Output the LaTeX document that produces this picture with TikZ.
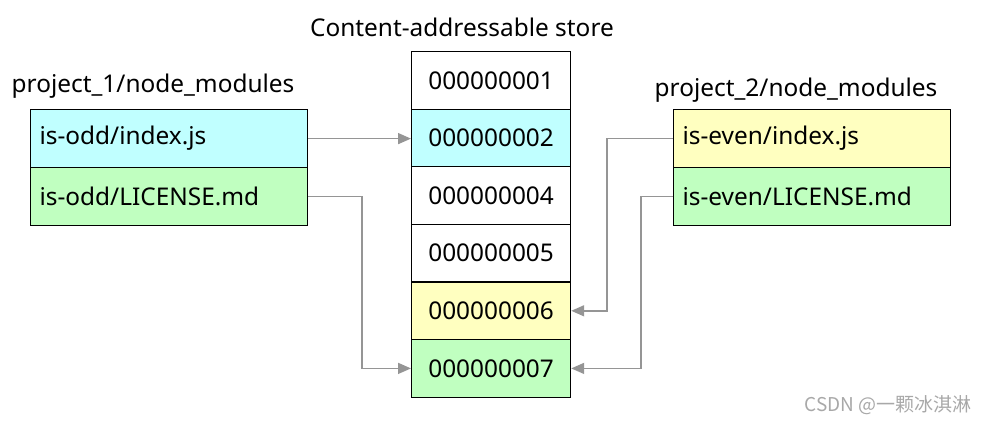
\documentclass[tikz,border=0pt]{standalone}
\usepackage{fontspec}
\setmainfont{Noto Sans}
\newfontfamily\cjk{Noto Sans CJK SC}
\usetikzlibrary{arrows.meta}
\definecolor{cyanfill}{HTML}{C0FFFF}
\definecolor{greenfill}{HTML}{C0FFC0}
\definecolor{yellowfill}{HTML}{FFFFC0}
\definecolor{linkgray}{HTML}{959595}
\definecolor{markgray}{HTML}{A8A8A8}
\begin{document}
\begin{tikzpicture}[x=1pt,y=-1pt,
  txt/.style={font=\fontsize{24.4}{28}\selectfont},
  filebox/.style={draw=black, line width=1.2pt, minimum width=277pt, minimum height=58pt,
    inner sep=0pt, text width=259pt, align=left, txt},
  cell/.style={draw=black, line width=1.2pt, minimum width=159pt, minimum height=57.6pt,
    inner sep=0pt, align=center, txt},
  link/.style={draw=linkgray, line width=1.5pt, -{Triangle[length=13pt,width=11pt]}},
  title/.style={txt, inner sep=0pt}
]
\useasboundingbox (0,0) rectangle (987,424);

% store column
\node[title] (storetitle) at (462,27) {Content-addressable store};
\node[cell, anchor=north west] (c1) at (411,51) {000000001};
\node[cell, fill=cyanfill, anchor=north west] (c2) at (411,108.6) {000000002};
\node[cell, anchor=north west] (c3) at (411,166.2) {000000004};
\node[cell, anchor=north west] (c4) at (411,223.8) {000000005};
\node[cell, fill=yellowfill, anchor=north west] (c5) at (411,281.4) {000000006};
\node[cell, fill=greenfill, anchor=north west] (c6) at (411,339) {000000007};

% project 1
\node[title] (p1title) at (153,86) {project\_1/node\_modules};
\node[filebox, fill=cyanfill, anchor=north west] (l1) at (30,109) {is-odd/index.js};
\node[filebox, fill=greenfill, anchor=north west] (l2) at (30,167) {is-odd/LICENSE.md};

% project 2
\node[title] (p2title) at (796,90) {project\_2/node\_modules};
\node[filebox, fill=yellowfill, anchor=north west] (r1) at (673,109) {is-even/index.js};
\node[filebox, fill=greenfill, anchor=north west] (r2) at (673,167) {is-even/LICENSE.md};

% connectors
\draw[link] (l1.east) -- (l1.east -| c2.west);
\draw[link] (l2.east) -- ++(54,0) |- (c6.west);
\draw[link] (r1.west) -- ++(-66,0) |- (c5.east);
\draw[link] (r2.west) -- ++(-32,0) |- (c6.east);

% watermark
\node[font=\cjk\fontsize{19}{22}\selectfont, text=markgray, anchor=east, inner sep=0pt] (mark) at (972,405) {CSDN @一颗冰淇淋};
\end{tikzpicture}
\end{document}
